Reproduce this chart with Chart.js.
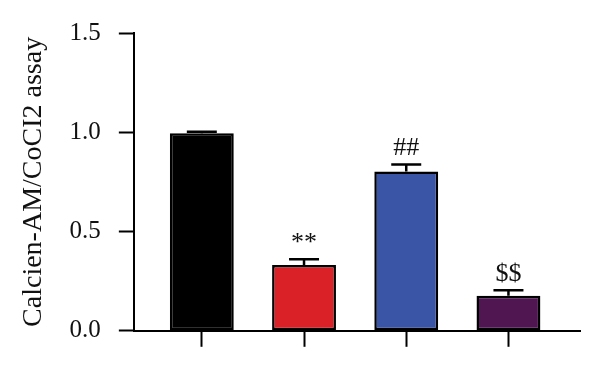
<!DOCTYPE html>
<html lang="en">

<head>
  <meta charset="UTF-8">
  <title>Calcien-AM assay</title>
  <script src="https://cdn.jsdelivr.net/npm/chart.js"></script>
  <style>
    html, body { margin: 0; padding: 0; background: #fff; }
    #wrap { width: 600px; height: 366px; }
  </style>
</head>

<body>
  <div id="wrap"><canvas id="assayChart"></canvas></div>

  <script>
    // Data
    const groups = ['Control', 'CoCl2', 'CoCl2 + treatment', 'Treatment'];
    const means = [0.995, 0.332, 0.803, 0.177];
    const errors = [0.008, 0.028, 0.035, 0.027];
    const marks = ['', '**', '##', '$$'];
    const colors = ['#000000', '#da2128', '#3a55a5', '#501652'];
    const yTicks = [0, 0.5, 1.0, 1.5];

    const serif = '"Liberation Serif", "Times New Roman", serif';

    // Error bars (upper only) + significance marks
    const errorBars = {
      id: 'errorBars',
      afterDatasetsDraw(chart) {
        const { ctx, scales: { x, y } } = chart;
        ctx.save();
        ctx.strokeStyle = '#000';
        ctx.lineWidth = 2.5;
        ctx.fillStyle = '#111';
        ctx.font = '26px ' + serif;
        ctx.textAlign = 'center';
        ctx.textBaseline = 'bottom';
        means.forEach((m, i) => {
          const px = x.getPixelForValue(i);
          const top = y.getPixelForValue(m);
          const hi = y.getPixelForValue(m + errors[i]);
          ctx.beginPath();
          ctx.moveTo(px, top);
          ctx.lineTo(px, hi);
          ctx.moveTo(px - 15, hi);
          ctx.lineTo(px + 15, hi);
          ctx.stroke();
          if (marks[i]) ctx.fillText(marks[i], px, hi - 3);
        });
        ctx.restore();
      }
    };

    const ctx = document.getElementById('assayChart').getContext('2d');
    new Chart(ctx, {
      type: 'bar',
      data: {
        datasets: [{
          label: 'Calcien-AM/CoCI2 assay',
          data: means.map((v, i) => ({ x: i, y: v })),
          backgroundColor: colors,
          borderColor: '#000',
          borderWidth: 2.5,
          borderSkipped: false,
          barPercentage: 0.625,
          categoryPercentage: 1
        }]
      },
      plugins: [errorBars],
      options: {
        responsive: true,
        maintainAspectRatio: false,
        animation: false,
        layout: { padding: { top: 8, right: 20, bottom: 18, left: 17 } },
        plugins: {
          legend: { display: false },
          tooltip: { enabled: false }
        },
        scales: {
          x: {
            type: 'linear',
            offset: false,
            min: -0.665,
            max: 3.7,
            afterBuildTicks: axis => { axis.ticks = groups.map((g, i) => ({ value: i })); },
            ticks: { callback: () => '', font: { size: 1 }, padding: 0 },
            grid: { offset: false, drawOnChartArea: false, tickLength: 16, tickWidth: 2, color: '#000' },
            border: { display: true, color: '#000', width: 2 }
          },
          y: {
            min: 0,
            max: 1.5,
            afterBuildTicks: axis => { axis.ticks = yTicks.map(v => ({ value: v })); },
            ticks: {
              callback: v => Number(v).toFixed(1),
              color: '#111',
              padding: 18,
              font: { family: serif, size: 25 }
            },
            grid: { drawOnChartArea: false, tickLength: 15, tickWidth: 2, color: '#000' },
            border: { display: true, color: '#000', width: 2 },
            title: {
              display: true,
              text: 'Calcien-AM/CoCI2 assay',
              color: '#111',
              padding: { top: 0, bottom: 1 },
              font: { family: serif, size: 28 }
            }
          }
        }
      }
    });
  </script>
</body>

</html>
